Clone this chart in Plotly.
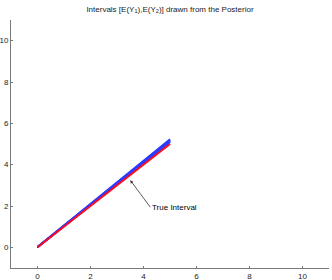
import plotly.graph_objects as go

# Posterior draws of the interval [E(Y1), E(Y2)] at x = 0 and x = 5
x_points = [0, 5]
draw_starts = [0.00, 0.02, -0.01, 0.03, 0.01, 0.00, 0.02, 0.01, 0.04, 0.00]
draw_ends = [5.08, 5.12, 5.15, 5.18, 5.20, 5.22, 5.10, 5.16, 5.24, 5.14]
true_interval = [0.0, 5.0]
tick_vals = [0, 2, 4, 6, 8, 10]

fig = go.Figure()
for s, e in zip(draw_starts, draw_ends):
    fig.add_trace(go.Scatter(x=x_points, y=[s, e], mode="lines",
                             line=dict(color="#2a3cff", width=1.5),
                             showlegend=False, hoverinfo="skip"))
fig.add_trace(go.Scatter(x=x_points, y=true_interval, mode="lines",
                         line=dict(color="#ff0a1e", width=2),
                         showlegend=False, hoverinfo="skip"))

fig.add_annotation(x=3.5, y=3.25, ax=20, ay=27, axref="pixel", ayref="pixel",
                   text="True Interval", showarrow=True, arrowhead=2, arrowsize=0.8,
                   arrowwidth=0.8, arrowcolor="#333333", xanchor="left", yanchor="middle",
                   font=dict(size=8, color="black", family="Liberation Sans"))

axis_style = dict(range=[-1, 11], tickvals=tick_vals, showgrid=False, zeroline=False,
                  showline=True, linecolor="#7a7a7a", linewidth=1, automargin=False,
                  ticks="inside", ticklen=2, tickcolor="#7a7a7a",
                  tickfont=dict(size=8, color="#222222", family="Liberation Sans"))

fig.update_layout(
    width=332, height=280,
    margin=dict(l=11, r=3, t=20, b=12),
    paper_bgcolor="white", plot_bgcolor="white",
    title=dict(text="Intervals [E(Y<sub>1</sub>),E(Y<sub>2</sub>)] drawn from the Posterior",
               x=0.512, xanchor="center", y=0.968, yanchor="middle",
               font=dict(size=8, color="#222222", family="Liberation Sans")),
    xaxis=axis_style, yaxis=axis_style,
)
fig.write_html("out.html", config={"displayModeBar": False},
               post_script="document.body.style.margin='0';document.body.style.overflow='hidden';")
